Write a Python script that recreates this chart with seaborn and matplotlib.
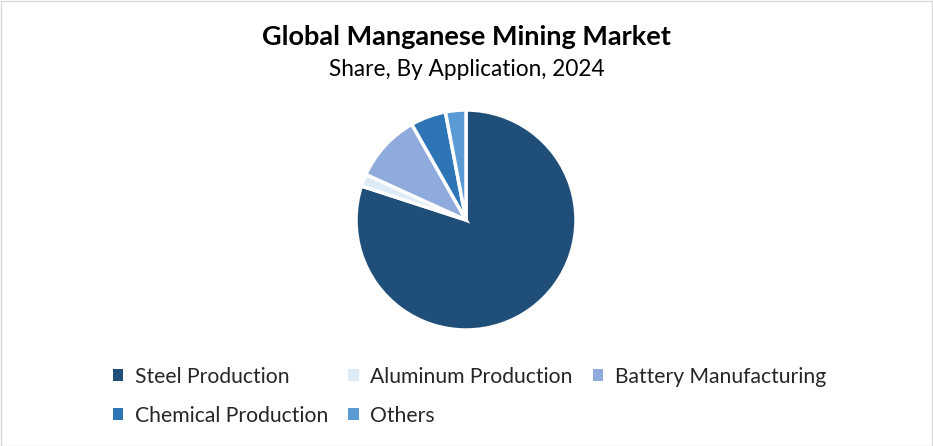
import matplotlib
matplotlib.use("Agg")
import matplotlib.pyplot as plt
import matplotlib.patches as mpatches
import seaborn as sns

sns.set_style("white")
plt.rcParams["font.family"] = ["Lato", "DejaVu Sans"]

# ---------------------------------------------------------------------
# Data
# ---------------------------------------------------------------------
applications = ["Steel Production", "Aluminum Production", "Battery Manufacturing",
                "Chemical Production", "Others"]
shares = [80.0, 1.8, 10.0, 5.2, 3.0]
colors = ["#1F4E79", "#DDEBF7", "#8FAADC", "#2E75B6", "#5B9BD5"]

# ---------------------------------------------------------------------
# Figure
# ---------------------------------------------------------------------
W, H = 933, 446
fig = plt.figure(figsize=(W / 100, H / 100), dpi=100)

# pie axes: centre (466, 220) px, radius 110 px -> axes spans 2.5 radii
cx, cy, r = 466, 220, 110
half = 1.25 * r
ax = fig.add_axes([(cx - half) / W, (H - cy - half) / H, 2 * half / W, 2 * half / H])

wedges, _ = ax.pie(
    shares, colors=colors, startangle=90, counterclock=False,
    wedgeprops={"edgecolor": "white", "linewidth": 2.5},
)
ax.set_aspect("equal")

fig.text(0.5, 1 - 37 / H, "Global Manganese Mining Market", ha="center", va="center",
         fontsize=19.5, fontweight="bold", color="black")
fig.text(0.5, 1 - 69 / H, "Share, By Application, 2024", ha="center", va="center",
         fontsize=16.3, color="black")

# legend: 3 columns, filled column-wise
order = [0, 3, 1, 4, 2]
handles = [mpatches.Patch(facecolor=colors[i], edgecolor="none") for i in order]
labels = [applications[i] for i in order]
fig.legend(handles, labels, ncol=3, loc="upper left",
           bbox_to_anchor=(102 / W, 1 - 356 / H), frameon=False,
           fontsize=15.2, handlelength=0.5, handleheight=0.5, handletextpad=0.55,
           columnspacing=0.95, labelspacing=0.9, borderpad=0)

# light grey frame around the chart
fig.add_artist(mpatches.Rectangle((0.5 / W, 0.5 / H), 1 - 1.5 / W, 1 - 1.5 / H,
                                  transform=fig.transFigure, fill=False,
                                  edgecolor="#D9D9D9", linewidth=1))

fig.savefig("out.png", dpi=100)
